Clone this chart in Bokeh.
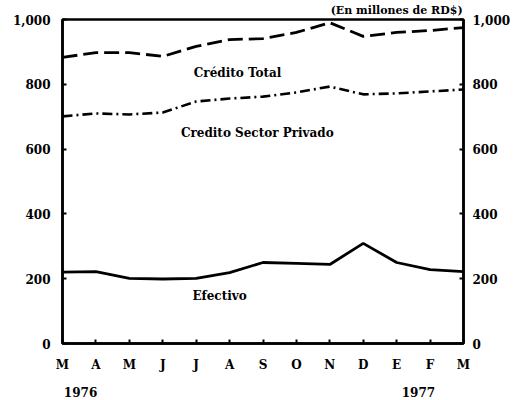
from bokeh.plotting import figure
from bokeh.models import (Range1d, FixedTicker, LinearAxis, Label, NumeralTickFormatter)
from bokeh.embed import file_html
from bokeh.resources import INLINE

months = ["M", "A", "M", "J", "J", "A", "S", "O", "N", "D", "E", "F", "M"]
credito_total = [883, 898, 898, 886, 917, 938, 941, 960, 990, 948, 960, 966, 975]
credito_privado = [701, 710, 707, 713, 747, 756, 762, 775, 793, 769, 772, 778, 784]
efectivo = [220, 222, 201, 199, 201, 219, 250, 247, 244, 309, 250, 228, 222]
y_ticks = [0, 200, 400, 600, 800, 1000]
years = ["1976", "1977"]
year_pos = [0.54, 10.65]
series_labels = ["Crédito Total", "Credito Sector Privado", "Efectivo"]
series_label_pos = [(5.24, 836), (5.83, 651), (4.70, 148)]
title_text = "(En millones de RD$)"
title_pos = 10.0

FONT = "DejaVu Serif"
x = list(range(len(months)))

p = figure(width=515, height=400, x_range=Range1d(0, 12), y_range=Range1d(0, 1000),
           output_backend="svg", toolbar_location=None,
           min_border_left=62, min_border_right=52, min_border_top=18, min_border_bottom=57)
p.background_fill_color = "white"
p.border_fill_color = "white"
p.outline_line_color = "black"
p.outline_line_width = 2.5
p.xgrid.visible = False
p.ygrid.visible = False

p.line(x, credito_total, line_color="black", line_width=2.8, line_dash="15 6")
p.line(x, credito_privado, line_color="black", line_width=2.6, line_dash="10 4 2 4")
p.line(x, efectivo, line_color="black", line_width=2.8)


def style(ax, size="12px", standoff=10):
    ax.major_label_text_font = FONT
    ax.major_label_text_font_style = "bold"
    ax.major_label_text_font_size = size
    ax.major_label_text_color = "black"
    ax.major_label_standoff = standoff
    ax.minor_tick_line_color = None
    ax.minor_tick_in = 0
    ax.minor_tick_out = 0


def bare(ax):
    ax.axis_line_color = None
    ax.major_tick_line_color = None
    ax.major_tick_in = 0
    ax.major_tick_out = 0


# bottom axis (months)
xa = p.xaxis[0]
xa.ticker = FixedTicker(ticks=x)
xa.major_label_overrides = {i: m for i, m in enumerate(months)}
xa.major_tick_in = 4
xa.major_tick_out = 0
xa.major_tick_line_width = 2
xa.axis_line_width = 2.5
style(xa, standoff=14)

# second bottom axis (years)
ya_years = LinearAxis(ticker=FixedTicker(ticks=year_pos))
ya_years.major_label_overrides = {v: t for v, t in zip(year_pos, years)}
bare(ya_years)
style(ya_years, standoff=12)
p.add_layout(ya_years, "below")

# top axis carrying the units note
ta = LinearAxis(ticker=FixedTicker(ticks=[title_pos]))
ta.major_label_overrides = {title_pos: title_text}
bare(ta)
style(ta, size="11px", standoff=3)
p.add_layout(ta, "above")

# left axis
ya = p.yaxis[0]
ya.ticker = FixedTicker(ticks=y_ticks)
ya.formatter = NumeralTickFormatter(format="0,0")
ya.major_tick_in = 4
ya.major_tick_out = 0
ya.major_tick_line_width = 2
ya.axis_line_width = 2.5
style(ya, standoff=12)

# right axis
ra = LinearAxis(ticker=FixedTicker(ticks=y_ticks), formatter=NumeralTickFormatter(format="0,0"))
ra.major_tick_in = 4
ra.major_tick_out = 0
ra.major_tick_line_width = 2
ra.axis_line_width = 2.5
style(ra, standoff=9)
p.add_layout(ra, "right")

for txt, (lx, ly) in zip(series_labels, series_label_pos):
    p.add_layout(Label(x=lx, y=ly, text=txt, text_align="center", text_baseline="middle",
                       text_font=FONT, text_font_style="bold", text_font_size="12px",
                       text_color="black"))

open("out.html", "w").write(file_html(p, INLINE))
